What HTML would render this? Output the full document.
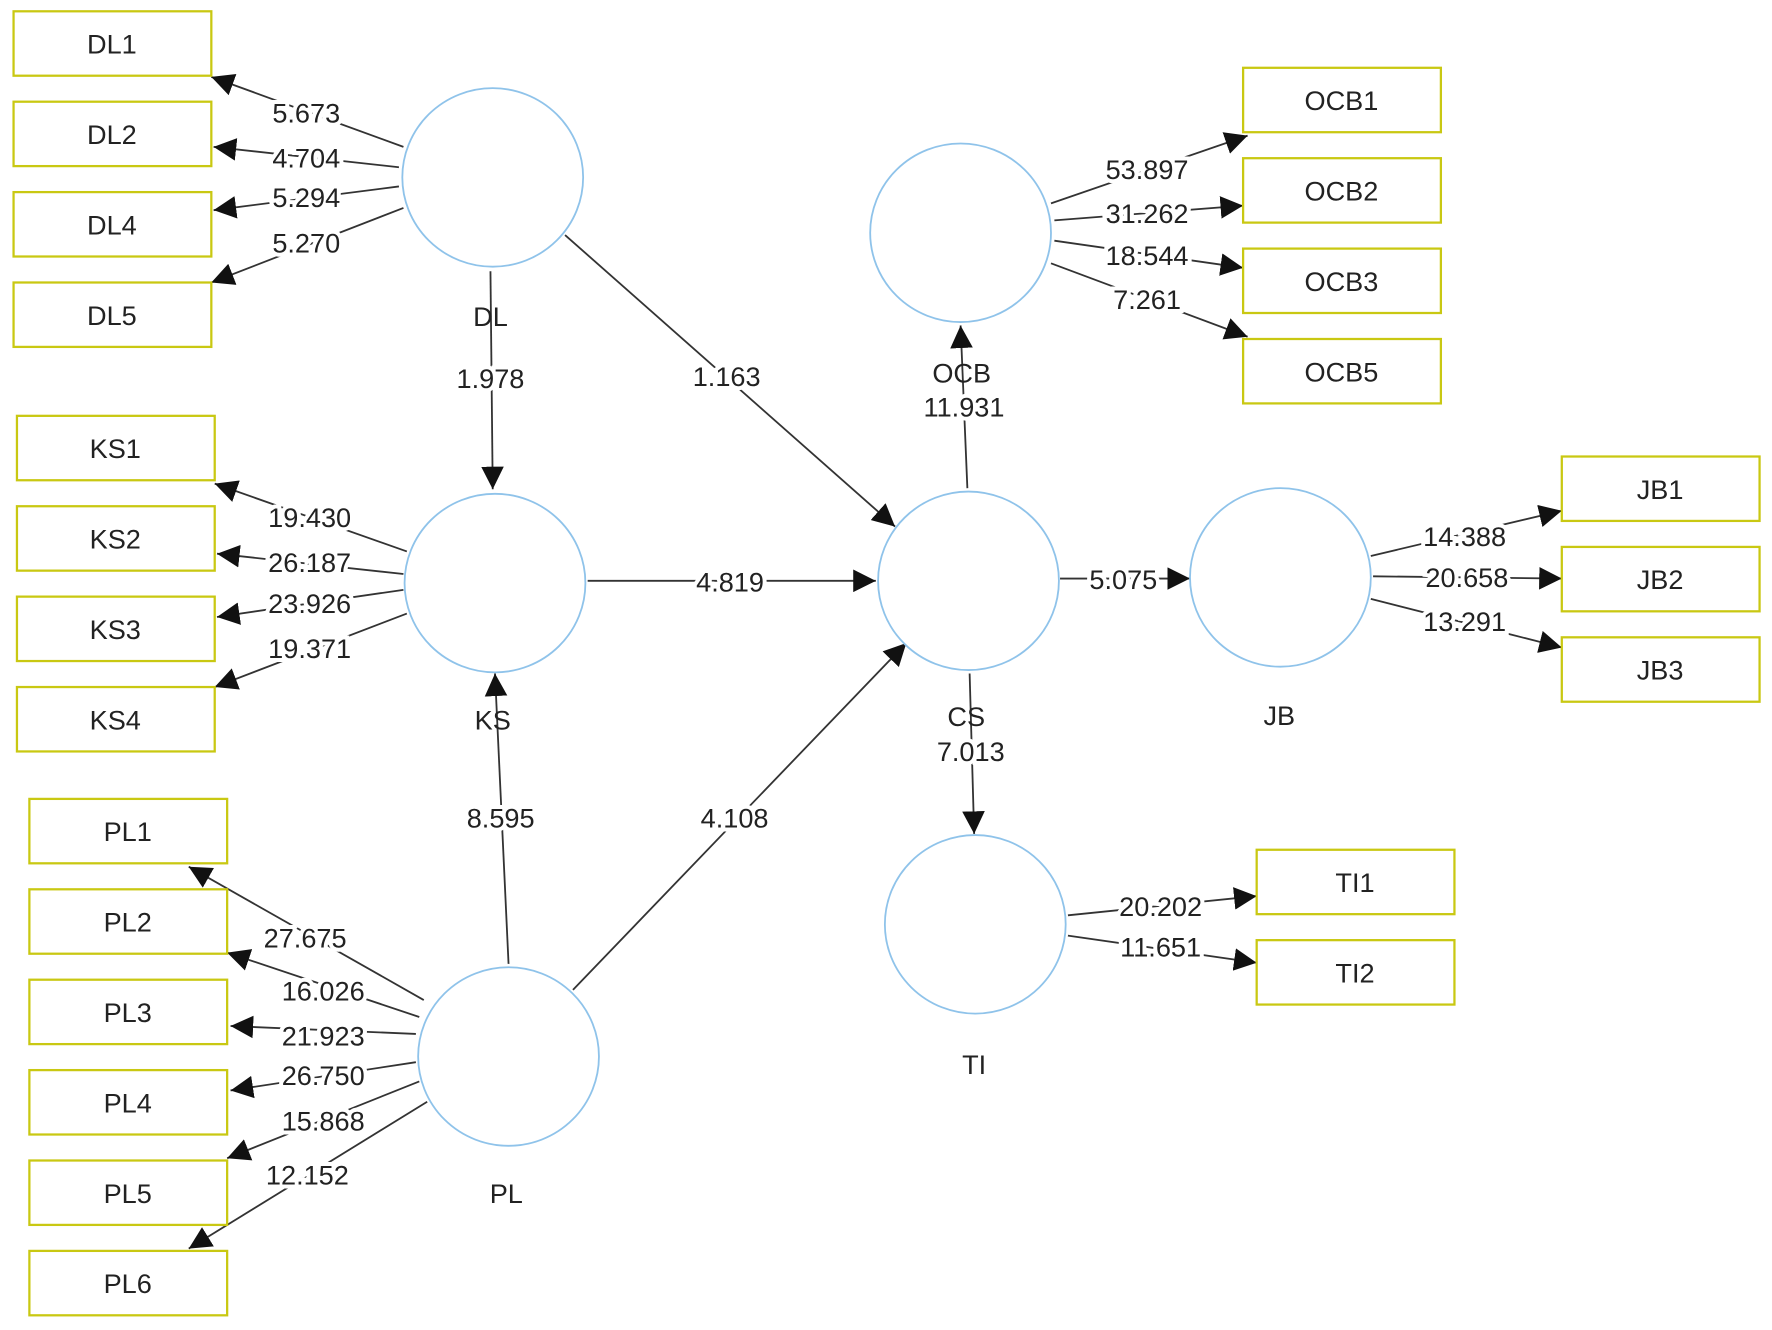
<!DOCTYPE html>
<html><head><meta charset="utf-8"><style>
html,body{margin:0;padding:0;background:#fff;}
svg{display:block;}
text{font-family:"Liberation Sans",sans-serif;font-size:24px;fill:#222;text-anchor:middle;dominant-baseline:central;}
.l{stroke:#fff;stroke-width:7px;paint-order:stroke;}
</style></head><body>
<svg width="1772" height="1330" viewBox="0 0 1568 1177" preserveAspectRatio="none" xmlns="http://www.w3.org/2000/svg">
<defs><marker id="a" viewBox="0 0 10 10" refX="10" refY="5" markerWidth="9" markerHeight="9" markerUnits="userSpaceOnUse" orient="auto"><path d="M0,0L10,5L0,10z" fill="#111"/></marker>
<marker id="b" viewBox="0 0 10 10" refX="10" refY="5" markerWidth="20" markerHeight="20" markerUnits="userSpaceOnUse" orient="auto"><path d="M0,0L10,5L0,10z" fill="#111"/></marker></defs>
<g stroke="#333" stroke-width="1.6" fill="none" marker-end="url(#b)">
<line x1="357" y1="130" x2="187" y2="68"/><line x1="353" y1="148" x2="189" y2="130"/><line x1="353" y1="165" x2="189" y2="186"/><line x1="357" y1="184" x2="187" y2="250"/>
<line x1="434" y1="240" x2="436" y2="433"/><line x1="500" y1="208" x2="792" y2="466"/>
<line x1="360" y1="488" x2="190" y2="428"/><line x1="357" y1="508" x2="192" y2="490"/><line x1="357" y1="522" x2="192" y2="546"/><line x1="360" y1="543" x2="190" y2="608"/>
<line x1="520" y1="514" x2="775" y2="514"/>
<line x1="450" y1="853" x2="438" y2="596"/><line x1="507" y1="876" x2="802" y2="569"/>
<line x1="375" y1="885" x2="167" y2="767"/><line x1="371" y1="900" x2="201" y2="843"/><line x1="368" y1="915" x2="204" y2="908"/><line x1="368" y1="940" x2="204" y2="965"/><line x1="371" y1="957" x2="201" y2="1025"/><line x1="378" y1="975" x2="167" y2="1105"/>
<line x1="856" y1="432" x2="850" y2="288"/>
<line x1="930" y1="180" x2="1104" y2="120"/><line x1="933" y1="195" x2="1100" y2="182"/><line x1="933" y1="213" x2="1100" y2="237"/><line x1="930" y1="233" x2="1104" y2="298"/>
<line x1="938" y1="512" x2="1053" y2="512"/>
<line x1="1213" y1="492" x2="1382" y2="452"/><line x1="1215" y1="510" x2="1382" y2="512"/><line x1="1213" y1="530" x2="1382" y2="573"/>
<line x1="858" y1="596" x2="862" y2="738"/>
<line x1="945" y1="810" x2="1112" y2="793"/><line x1="945" y1="828" x2="1112" y2="852"/>
</g>
<g fill="#fff" stroke="#8fc3ea" stroke-width="1.6">
<ellipse cx="436" cy="157" rx="80" ry="79"/><ellipse cx="438" cy="516" rx="80" ry="79"/><ellipse cx="450" cy="935" rx="80" ry="79"/>
<ellipse cx="850" cy="206" rx="80" ry="79"/><ellipse cx="857" cy="514" rx="80" ry="79"/><ellipse cx="1133" cy="511" rx="80" ry="79"/><ellipse cx="863" cy="818" rx="80" ry="79"/>
</g>
<g fill="#fff" stroke="#c9c812" stroke-width="2">
<rect x="12" y="10" width="175" height="57"/><rect x="12" y="90" width="175" height="57"/><rect x="12" y="170" width="175" height="57"/><rect x="12" y="250" width="175" height="57"/>
<rect x="15" y="368" width="175" height="57"/><rect x="15" y="448" width="175" height="57"/><rect x="15" y="528" width="175" height="57"/><rect x="15" y="608" width="175" height="57"/>
<rect x="26" y="707" width="175" height="57"/><rect x="26" y="787" width="175" height="57"/><rect x="26" y="867" width="175" height="57"/><rect x="26" y="947" width="175" height="57"/><rect x="26" y="1027" width="175" height="57"/><rect x="26" y="1107" width="175" height="57"/>
<rect x="1100" y="60" width="175" height="57"/><rect x="1100" y="140" width="175" height="57"/><rect x="1100" y="220" width="175" height="57"/><rect x="1100" y="300" width="175" height="57"/>
<rect x="1382" y="404" width="175" height="57"/><rect x="1382" y="484" width="175" height="57"/><rect x="1382" y="564" width="175" height="57"/>
<rect x="1112" y="752" width="175" height="57"/><rect x="1112" y="832" width="175" height="57"/>
</g>
<g>
<text x="99" y="39">DL1</text><text x="99" y="119">DL2</text><text x="99" y="199">DL4</text><text x="99" y="279">DL5</text>
<text x="102" y="397">KS1</text><text x="102" y="477">KS2</text><text x="102" y="557">KS3</text><text x="102" y="637">KS4</text>
<text x="113" y="736">PL1</text><text x="113" y="816">PL2</text><text x="113" y="896">PL3</text><text x="113" y="976">PL4</text><text x="113" y="1056">PL5</text><text x="113" y="1136">PL6</text>
<text x="1187" y="89">OCB1</text><text x="1187" y="169">OCB2</text><text x="1187" y="249">OCB3</text><text x="1187" y="329">OCB5</text>
<text x="1469" y="433">JB1</text><text x="1469" y="513">JB2</text><text x="1469" y="593">JB3</text>
<text x="1199" y="781">TI1</text><text x="1199" y="861">TI2</text>
<text x="434" y="280">DL</text><text x="436" y="637">KS</text><text x="448" y="1056">PL</text><text x="851" y="330">OCB</text><text x="855" y="634">CS</text><text x="1132" y="633">JB</text><text x="862" y="942">TI</text>
</g>
<g class="l">
<text class="l" x="271" y="100">5.673</text><text class="l" x="271" y="140">4.704</text><text class="l" x="271" y="175">5.294</text><text class="l" x="271" y="215">5.270</text>
<text class="l" x="434" y="335">1.978</text><text class="l" x="643" y="333">1.163</text>
<text class="l" x="274" y="458">19.430</text><text class="l" x="274" y="498">26.187</text><text class="l" x="274" y="534">23.926</text><text class="l" x="274" y="574">19.371</text>
<text class="l" x="646" y="515">4.819</text><text class="l" x="443" y="724">8.595</text><text class="l" x="650" y="724">4.108</text>
<text class="l" x="270" y="830">27.675</text><text class="l" x="286" y="877">16.026</text><text class="l" x="286" y="917">21.923</text><text class="l" x="286" y="952">26.750</text><text class="l" x="286" y="992">15.868</text><text class="l" x="272" y="1040">12.152</text>
<text class="l" x="853" y="360">11.931</text>
<text class="l" x="1015" y="150">53.897</text><text class="l" x="1015" y="189">31.262</text><text class="l" x="1015" y="226">18.544</text><text class="l" x="1015" y="265">7.261</text>
<text class="l" x="994" y="513">5.075</text>
<text class="l" x="1296" y="475">14.388</text><text class="l" x="1298" y="511">20.658</text><text class="l" x="1296" y="550">13.291</text>
<text class="l" x="859" y="665">7.013</text>
<text class="l" x="1027" y="802">20.202</text><text class="l" x="1027" y="838">11.651</text>
</g>
</svg>
</body></html>
